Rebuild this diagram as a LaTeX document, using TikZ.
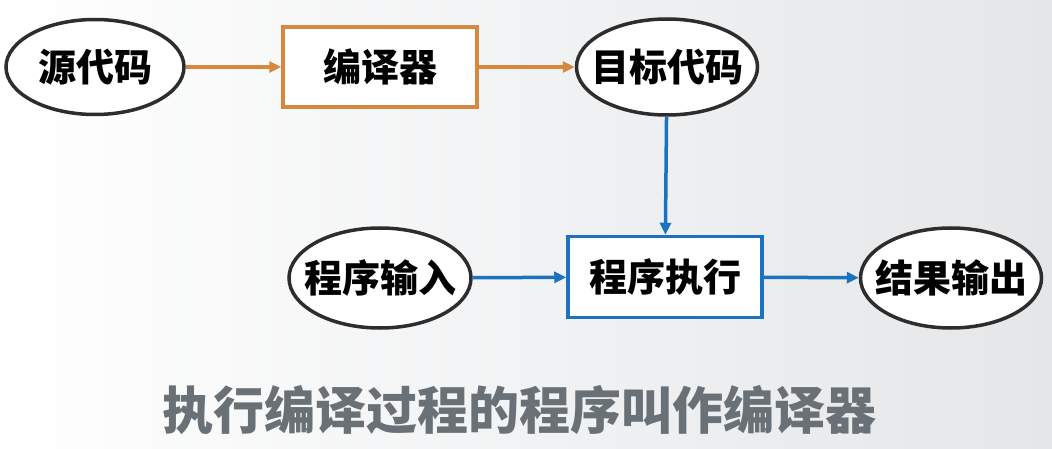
\documentclass[tikz,border=0pt]{standalone}
\usepackage{fontspec}
\newfontfamily\cjk{Noto Sans CJK SC}
\usetikzlibrary{arrows.meta,shapes.geometric}
\definecolor{orangeline}{RGB}{214,137,62}
\definecolor{blueline}{RGB}{28,114,190}
\definecolor{ellline}{RGB}{45,45,45}
\definecolor{captiongray}{RGB}{105,113,118}
\definecolor{bgright}{RGB}{228,230,232}
\newcommand{\zw}[1]{\makebox[0pt][c]{#1}}
\tikzset{
  ell/.style={ellipse, draw=ellline, line width=3.5pt, fill=white, inner sep=0pt,
    font=\cjk\bfseries\fontsize{38}{38}\selectfont, text=black},
  obox/.style={rectangle, draw=orangeline, line width=3.5pt, fill=white, inner sep=0pt,
    font=\cjk\bfseries\fontsize{38}{38}\selectfont, text=black},
  bbox/.style={rectangle, draw=blueline, line width=3.5pt, fill=white, inner sep=0pt,
    font=\cjk\bfseries\fontsize{38}{38}\selectfont, text=black},
  oarrow/.style={draw=orangeline, line width=3.5pt, -{Triangle[length=12pt,width=11pt]}},
  barrow/.style={draw=blueline, line width=3.5pt, -{Triangle[length=12pt,width=11pt]}},
}
\begin{document}
\begin{tikzpicture}[x=1pt,y=-1pt]
\shade[left color=white, right color=bgright] (0,0) rectangle (1052,449);
\useasboundingbox (0,0) rectangle (1052,449);
\node[ell, minimum width=178pt, minimum height=95pt] (src) at (95,67) {\zw{源代码}};
\node[obox, minimum width=194pt, minimum height=80pt] (comp) at (380,67) {\zw{编译器}};
\node[ell, minimum width=181pt, minimum height=96pt] (obj) at (667,67) {\zw{目标代码}};
\node[ell, minimum width=182pt, minimum height=100pt] (in) at (380,278) {\zw{程序输入}};
\node[bbox, minimum width=194pt, minimum height=81pt] (exec) at (665,277) {\zw{程序执行}};
\node[ell, minimum width=181pt, minimum height=100pt] (out) at (951,278) {\zw{结果输出}};
\draw[oarrow] (src) -- (comp);
\draw[oarrow] (comp) -- (obj);
\draw[barrow] (obj) -- (exec);
\draw[barrow] (in) -- (exec);
\draw[barrow] (exec) -- (out);
\node[font=\cjk\bfseries\fontsize{51}{51}\selectfont, text=captiongray] (cap) at (519,410) {执行编译过程的程序叫作编译器};
\end{tikzpicture}
\end{document}
